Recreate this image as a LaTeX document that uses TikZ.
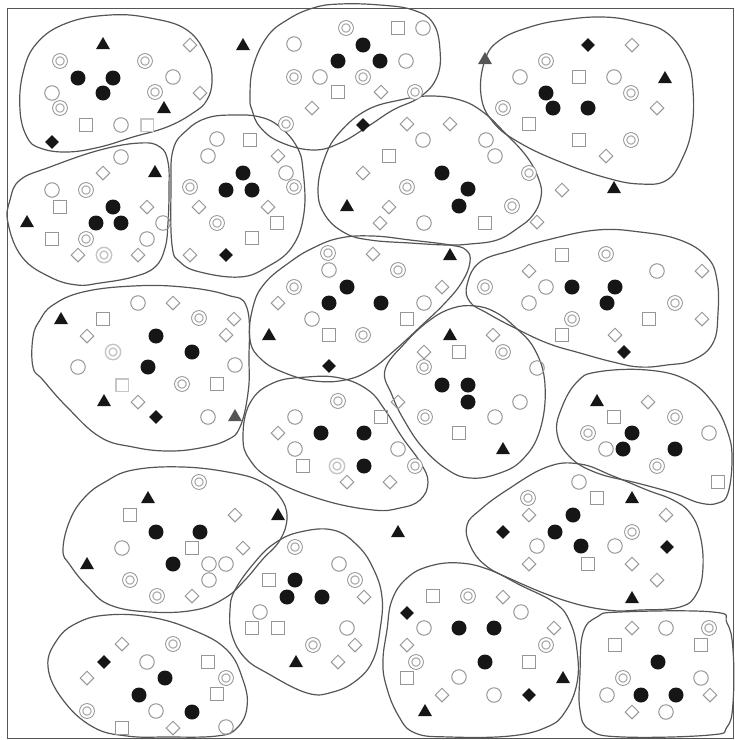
\documentclass[tikz,border=0pt]{standalone}
\usetikzlibrary{shapes.geometric}
\definecolor{linegray}{RGB}{85,85,85}
\definecolor{symgray}{RGB}{150,150,150}
\definecolor{inkblack}{RGB}{22,22,22}

\begin{document}
\begin{tikzpicture}[
  x=1pt, y=-1pt,
  frame/.style  = {draw=linegray, line width=1pt},
  blob/.style   = {draw=linegray, line width=1.2pt, smooth cycle, tension=0.7},
  ring/.style   = {circle, draw=symgray, line width=1pt, inner sep=0pt, minimum size=14.5pt},
  dring/.style  = {ring, minimum size=11.5pt, double=white, double distance=2.2pt},
  dot/.style    = {circle, fill=inkblack, inner sep=0pt, minimum size=15pt},
  box/.style    = {rectangle, draw=symgray, line width=1pt, inner sep=0pt, minimum size=12.5pt},
  diam/.style   = {diamond, draw=symgray, line width=1pt, inner sep=0pt, minimum size=14pt},
  bdiam/.style  = {diamond, fill=inkblack, inner sep=0pt, minimum size=14pt},
  tri/.style    = {regular polygon, regular polygon sides=3, fill=inkblack, inner sep=0pt, minimum size=16pt},
  faint/.style  = {draw=symgray!55, line width=1.5pt},
]
  \useasboundingbox (0,0) rectangle (735,740);
  \draw[frame] (7,8.5) rectangle (733,738);

  % cell outlines
  \draw[blob] plot coordinates {(212,80) (207,100) (193,113) (167,127) (133,137) (100,147) (67,152) (40,148) (27,137) (20,110) (23,73) (37,43) (67,23) (110,15) (150,18) (187,30) (207,57)};
  \draw[blob] plot coordinates {(250,97) (253,67) (267,37) (287,20) (313,8) (340,4) (380,5) (413,10) (433,23) (440,50) (437,77) (420,97) (393,110) (367,127) (340,143) (313,150) (280,142) (260,127) (252,110)};
  \draw[blob] plot coordinates {(485,60) (500,40) (530,27) (563,20) (603,17) (637,22) (667,33) (687,60) (693,90) (692,127) (683,157) (667,180) (640,184) (607,178) (563,163) (520,143) (493,122) (481,95)};
  \draw[blob] plot coordinates {(20,180) (50,167) (100,150) (140,143) (160,147) (168,162) (169,190) (168,223) (165,248) (155,267) (133,277) (100,283) (77,285) (50,277) (22,257) (8,223) (10,200)};
  \draw[blob] plot coordinates {(171,190) (173,150) (187,130) (207,118) (233,115) (260,117) (280,127) (297,147) (303,170) (304,213) (292,247) (267,267) (240,277) (200,272) (180,262) (172,245)};
  \draw[blob] plot coordinates {(318,190) (325,157) (340,132) (367,110) (400,100) (430,96) (460,100) (483,112) (505,133) (527,157) (539,180) (541,197) (533,215) (518,228) (497,240) (470,244) (447,245) (410,243) (370,240) (345,233) (325,215)};
  \draw[blob] plot coordinates {(253,307) (265,283) (290,262) (313,248) (340,238) (373,236) (410,240) (450,245) (466,250) (470,262) (462,282) (445,303) (420,327) (395,350) (370,370) (345,380) (315,381) (285,373) (262,360) (250,340)};
  \draw[blob] plot coordinates {(467,285) (480,262) (513,250) (547,240) (597,230) (640,232) (680,240) (707,257) (717,280) (718,313) (713,343) (693,360) (667,365) (640,367) (613,362) (580,353) (547,343) (513,327) (487,313) (470,302)};
  \draw[blob] plot coordinates {(33,367) (33,337) (40,320) (53,305) (83,292) (133,286) (183,287) (227,295) (247,308) (249,360) (248,393) (240,427) (227,440) (200,448) (167,451) (133,447) (100,437) (67,407) (43,380)};
  \draw[blob] plot coordinates {(385,370) (405,343) (430,320) (453,308) (475,306) (495,312) (515,327) (535,350) (545,385) (540,430) (522,460) (497,474) (470,478) (448,470) (423,448) (404,420) (392,395)};
  \draw[blob] plot coordinates {(243,437) (250,403) (273,383) (307,377) (340,378) (368,390) (385,410) (402,437) (420,462) (428,482) (420,500) (400,508) (373,510) (323,500) (273,480) (250,460)};
  \draw[blob] plot coordinates {(557,433) (562,407) (577,382) (597,372) (647,370) (687,380) (713,403) (728,433) (732,460) (728,493) (718,503) (700,503) (673,493) (637,483) (597,473) (570,457)};
  \draw[blob] plot coordinates {(467,525) (480,510) (507,490) (547,467) (580,464) (613,476) (647,490) (673,500) (690,513) (700,535) (703,567) (697,593) (680,607) (640,610) (607,610) (563,600) (513,580) (485,565) (470,545)};
  \draw[blob] plot coordinates {(63,550) (70,520) (85,497) (105,482) (133,470) (183,467) (233,473) (262,482) (280,497) (287,517) (280,540) (262,560) (245,580) (225,598) (195,610) (150,612) (110,605) (88,587) (70,565)};
  \draw[blob] plot coordinates {(235,590) (255,562) (275,543) (300,532) (333,530) (357,545) (373,568) (382,597) (380,630) (373,660) (357,680) (333,692) (307,693) (267,673) (245,658) (232,635) (230,610)};
  \draw[blob] plot coordinates {(48,667) (57,640) (77,623) (107,615) (150,617) (193,630) (227,650) (243,680) (247,707) (237,728) (217,736) (167,737) (127,736) (93,727) (63,700)};
  \draw[blob] plot coordinates {(387,630) (392,600) (407,578) (430,566) (460,563) (490,570) (520,585) (555,603) (570,622) (577,650) (577,683) (565,712) (547,727) (510,736) (450,737) (415,733) (398,715) (386,685) (383,660)};
  \draw[blob] plot coordinates {(580,673) (583,633) (597,617) (620,612) (713,612) (727,623) (733,650) (733,703) (727,727) (710,735) (623,737) (590,730) (580,710)};

  % black dots
  \foreach \p [count=\i] in {(78,78),(113,78),(103,93),(363,45),(338,61),(380,61),(546,93),(553,108),(588,108),
      (113,207),(96,223),(121,223),(243,173),(226,190),(252,190),(442,173),(468,189),(459,206),
      (347,287),(329,303),(381,303),(572,287),(615,287),(607,303),(156,336),(192,352),(148,367),
      (442,385),(468,385),(468,402),(321,433),(364,433),(364,466),(632,433),(623,449),(675,449),
      (573,515),(555,532),(581,546),(156,532),(200,532),(173,564),(295,580),(287,597),(322,597),
      (165,678),(139,695),(192,712),(459,628),(494,628),(485,662),(658,662),(641,695),(676,695)}
    \node[dot] (dot\i) at \p {};

  % open rings
  \foreach \p [count=\i] in {(173,77),(52,93),(121,125),(423,28),(294,44),(406,61),(320,77),(520,77),(614,77),
      (121,157),(52,190),(163,223),(147,239),(217,139),(208,156),(286,173),(423,140),(486,140),(495,156),(424,223),
      (329,270),(424,303),(312,319),(657,271),(546,287),(529,303),(138,303),(78,367),(235,365),(208,417),
      (537,368),(520,402),(495,417),(295,417),(295,449),(398,449),(709,433),(606,449),(579,482),(537,546),(615,546),
      (122,548),(209,564),(226,564),(209,580),(339,564),(260,612),(347,628),(147,662),(156,711),(226,727),
      (424,628),(459,677),(521,612),(494,695),(666,628),(701,678),(607,695),(666,712)}
    \node[ring] (ring\i) at \p {};

  % double rings
  \foreach \p [count=\i] in {(60,61),(145,61),(155,92),(60,108),(346,28),(294,77),(363,77),(415,92),(286,124),
      (546,61),(631,93),(503,108),(631,140),(86,190),(86,239),(190,187),(294,187),(217,223),
      (407,187),(529,173),(512,206),(328,253),(398,270),(294,287),(363,335),(606,254),(485,287),(675,303),(572,319),
      (199,318),(182,384),(424,367),(425,417),(503,352),(338,401),(415,466),(675,417),(588,433),(657,466),
      (528,498),(632,532),(199,482),(130,580),(157,596),(295,547),(355,580),(313,645),(173,644),(226,678),(87,711),
      (468,596),(546,645),(416,662),(709,628),(623,678)}
    \node[dring] (dring\i) at \p {};
  \foreach \p [count=\i] in {(104,255),(113,352),(337,466)}
    \node[dring, faint] (fring\i) at \p {};

  % open diamonds
  \foreach \p [count=\i] in {(190,45),(200,93),(381,92),(312,108),(632,45),(657,108),(606,156),
      (103,173),(147,207),(78,255),(138,255),(278,156),(199,207),(268,207),(190,255),
      (407,124),(450,124),(363,173),(389,207),(380,223),(562,190),(537,222),(373,254),(442,287),(278,303),
      (702,271),(529,271),(702,319),(615,335),(173,303),(234,319),(87,336),(226,335),(138,402),
      (424,352),(398,402),(493,335),(648,402),(529,515),(666,515),(529,564),(632,564),(657,580),
      (235,515),(243,548),(192,596),(364,597),(355,645),(338,662),(278,433),(347,482),(390,482),
      (122,644),(87,678),(173,728),(407,645),(442,695),(503,597),(554,628),(632,628),(710,695),(632,712)}
    \node[diam] (diam\i) at \p {};

  % open boxes
  \foreach \p [count=\i] in {(86,125),(398,28),(338,92),(579,77),(529,124),(579,140),(60,207),(52,239),
      (250,140),(277,223),(252,238),(389,156),(485,223),(407,319),(329,335),(562,255),(649,319),(562,335),
      (103,319),(217,384),(459,352),(459,433),(381,417),(303,466),(614,417),(718,482),(597,498),(588,564),
      (130,515),(192,548),(269,580),(252,628),(278,628),(208,662),(217,694),(122,728),
      (433,596),(529,662),(407,678),(615,645),(701,645)}
    \node[box] (box\i) at \p {};
  \foreach \p [count=\i] in {(147,125),(122,385)}
    \node[box, faint] (fbox\i) at \p {};

  % black diamonds and triangles
  \foreach \p [count=\i] in {(52,142),(363,125),(588,45),(226,255),(329,366),(624,352),(156,417),
      (503,532),(667,547),(407,613),(529,695),(104,662)}
    \node[bdiam] (bdiam\i) at \p {};
  \foreach \p [count=\i] in {(103,45),(164,109),(243,46),(155,173),(27,223),(614,189),(665,79),(347,207),
      (450,256),(269,336),(61,320),(104,402),(450,336),(503,450),(597,402),(632,499),(632,599),
      (148,499),(278,516),(87,565),(398,533),(296,663),(425,712),(563,679)}
    \node[tri] (tri\i) at \p {};
  \node[tri, fill=linegray] (gtri1) at (485,60) {};
  \node[tri, fill=linegray] (gtri2) at (235,417) {};
\end{tikzpicture}
\end{document}
